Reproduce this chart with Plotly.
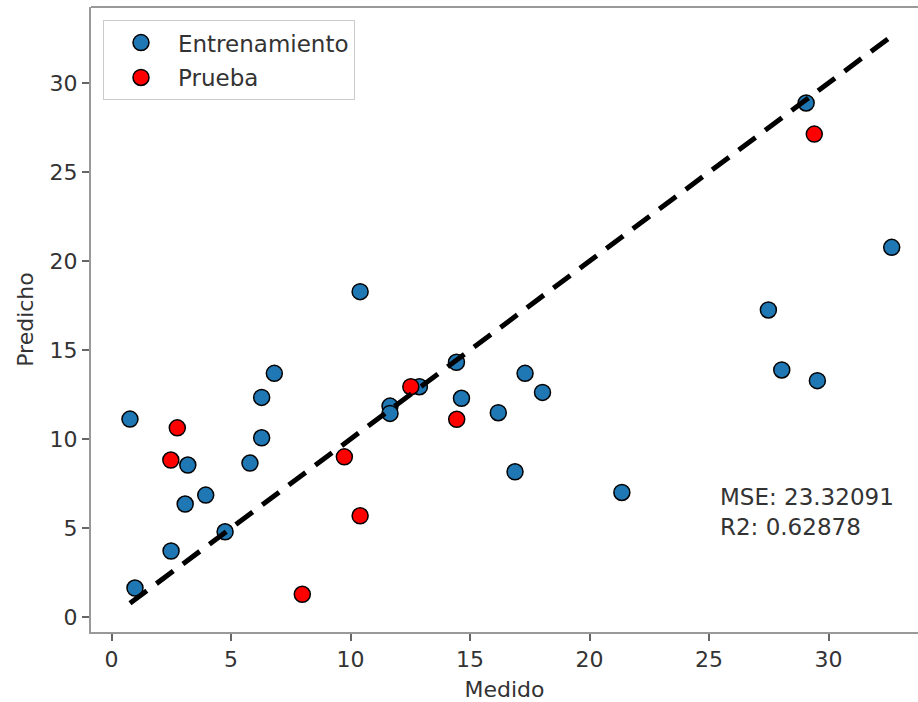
import plotly.graph_objects as go

# Data
train_measured = [0.77, 0.98, 2.49, 3.08, 3.19, 3.94, 4.75, 5.79, 6.28, 6.28, 6.81,
                  10.40, 11.65, 11.65, 12.88, 14.43, 14.64, 16.18, 16.88, 17.30,
                  18.03, 21.35, 27.48, 28.04, 29.53, 29.06, 32.64]
train_predicted = [11.12, 1.63, 3.71, 6.35, 8.54, 6.85, 4.79, 8.65, 10.07, 12.34, 13.69,
                   18.28, 11.85, 11.44, 12.94, 14.31, 12.29, 11.48, 8.16, 13.69,
                   12.62, 7.00, 17.25, 13.88, 13.28, 28.88, 20.77]
test_measured = [2.75, 2.48, 9.74, 10.40, 7.98, 14.44, 12.52, 29.40]
test_predicted = [10.63, 8.82, 9.00, 5.69, 1.28, 11.11, 12.94, 27.13]
series_names = ["Entrenamiento", "Prueba"]
x_tick_values = [0, 5, 10, 15, 20, 25, 30]
y_tick_values = [0, 5, 10, 15, 20, 25, 30]
x_label = "Medido"
y_label = "Predicho"
metrics_text = "MSE: 23.32091<br>R2: 0.62878"

all_measured = train_measured + test_measured
lo, hi = min(all_measured), max(all_measured)

FONT = "DejaVu Sans"
TXT = "#333333"

fig = go.Figure()
fig.add_trace(go.Scatter(
    x=train_measured, y=train_predicted, mode="markers", name=series_names[0],
    legendgroup="a",
    marker=dict(size=16, color="#1f77b4", line=dict(color="black", width=1.5)),
))
fig.add_trace(go.Scatter(
    x=test_measured, y=test_predicted, mode="markers", name=series_names[1],
    legendgroup="b",
    marker=dict(size=16, color="#ff0000", line=dict(color="black", width=1.5)),
))
fig.add_trace(go.Scatter(
    x=[lo, hi], y=[lo, hi], mode="lines", showlegend=False,
    line=dict(color="black", width=5, dash="21px,12px"),
))

fig.add_annotation(
    x=25.38, y=5.9, xref="x", yref="y", text=metrics_text, showarrow=False,
    xanchor="left", yanchor="middle", align="left",
    font=dict(family=FONT, size=23, color=TXT),
)

# top spine
fig.add_shape(type="line", xref="paper", yref="paper", x0=0, x1=1, y0=1, y1=1,
              line=dict(color="#999999", width=2))

axis_common = dict(
    showgrid=False, zeroline=False, showline=True, linecolor="#999999", linewidth=2,
    ticks="outside", ticklen=7, tickwidth=2, tickcolor="#666666",
    tickfont=dict(family=FONT, size=22, color=TXT), automargin=False,
)
fig.update_xaxes(range=[-0.86, 33.74], tickvals=x_tick_values,
                 title=dict(text=x_label, font=dict(family=FONT, size=22, color=TXT), standoff=10),
                 **axis_common)
fig.update_yaxes(range=[-0.84, 34.27], tickvals=y_tick_values,
                 title=dict(text=y_label, font=dict(family=FONT, size=22, color=TXT), standoff=10),
                 **axis_common)

fig.update_layout(
    width=918, height=702,
    margin=dict(l=91, r=0, t=7, b=70, autoexpand=False),
    plot_bgcolor="white", paper_bgcolor="white",
    font=dict(family=FONT, size=22, color=TXT),
    legend=dict(x=0.0145, y=0.979, xanchor="left", yanchor="top",
                bordercolor="#cccccc", borderwidth=1, bgcolor="white",
                itemwidth=64, tracegroupgap=2,
                font=dict(family=FONT, size=23, color=TXT)),
)

fig.write_html("out.html", config={"displayModeBar": False},
               post_script="document.body.style.margin='0';")
